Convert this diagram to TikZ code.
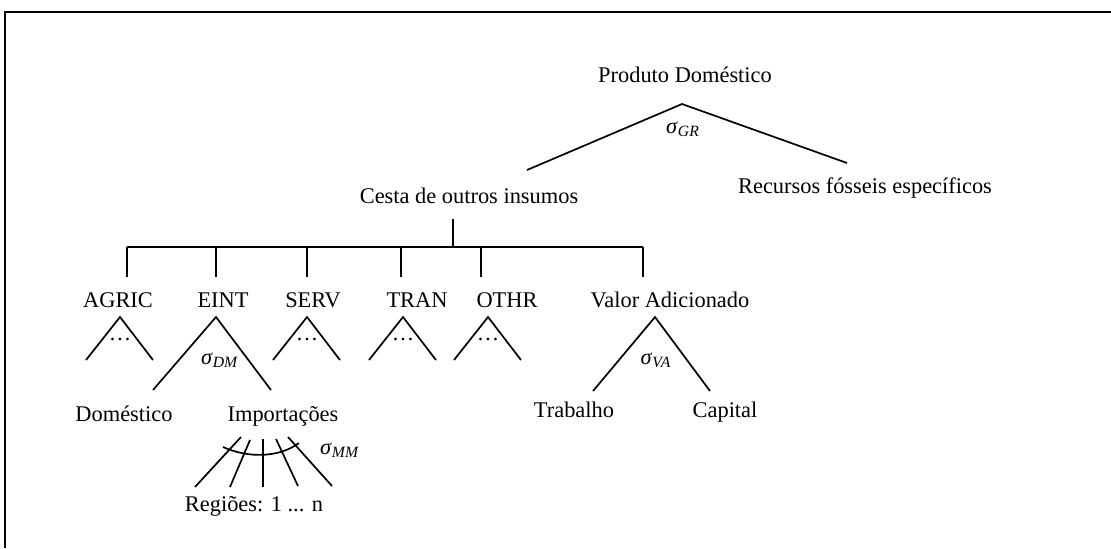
\documentclass[tikz,border=0pt]{standalone}
\usepackage{fontspec}
\setmainfont{Liberation Serif}
\usetikzlibrary{positioning}

\newcommand{\elas}[1]{\textit{σ}\textsubscript{\textit{#1}}}

\begin{document}
\begin{tikzpicture}[x=0.5pt, y=-0.5pt]
    \tikzset{
      every node/.style={inner sep=0pt, font=\fontsize{11.2}{13}\selectfont}, % size of all labels
      lbl/.style={anchor=base}, % labels sit on their baseline
      branch/.style={line width=0.85pt}, % the lines of each nest
      bar/.style={line width=1.3pt}, % the long line below the basket
    }

    \useasboundingbox (0,0) rectangle (1111,548);
    \coordinate (fl) at (5,548);
    \coordinate (fc) at (5,12);
    \coordinate (fr) at (1111,12);
    \draw[line width=1pt] (fl) -- (fc) -- (fr);

    % top nest
    \node[lbl] (prod) at (685,82) {Produto Doméstico};
    \node (sgr) at (683,129) {\elas{GR}};
    \node[lbl] (cesta) at (469,203) {Cesta de outros insumos};
    \node[lbl] (fossil) at (865,193) {Recursos fósseis específicos};
    \coordinate (pa) at (682,104);
    \coordinate (pl) at (527,170);
    \coordinate (pr) at (847,163);
    \draw[branch] (pl) -- (pa) -- (pr);

    % basket
    \coordinate (cb) at (453,219);
    \coordinate (cj) at (453,247);
    \coordinate (bl) at (127,247);
    \coordinate (br) at (643,247);
    \draw[branch] (cb) -- (cj);
    \draw[bar] (bl) -- (br);
    \foreach \x/\s in {127/agric, 216/eint, 307/serv, 401/tran, 481/othr, 643/va}{
      \coordinate (\s top) at (\x,247);
      \coordinate (\s foot) at (\x,277);
      \draw[branch] (\s top) -- (\s foot);
    }

    \node[lbl] (agric) at (118,307) {AGRIC};
    \node[lbl] (eint) at (223,307) {EINT};
    \node[lbl] (serv) at (313,307) {SERV};
    \node[lbl] (tran) at (417,307) {TRAN};
    \node[lbl] (othr) at (507,307) {OTHR};
    \node[lbl] (va) at (670,307) {Valor Adicionado};

    % sectors that are not split
    \foreach \x/\s in {120/agric, 307/serv, 403/tran, 488/othr}{
      \coordinate (\s a) at (\x,317);
      \coordinate (\s l) at (\x-34,360);
      \coordinate (\s r) at (\x+33,360);
      \draw[branch] (\s l) -- (\s a) -- (\s r);
      \node[lbl] (\s dots) at (\x,340) {\dots};
    }

    % domestic and imported
    \coordinate (ea) at (216,317);
    \coordinate (el) at (153,390);
    \coordinate (er) at (271,390);
    \draw[branch] (el) -- (ea) -- (er);
    \node (sdm) at (220,360) {\elas{DM}};
    \node[lbl] (dom) at (124,421) {Doméstico};
    \node[lbl] (imp) at (283,421) {Importações};

    % value added
    \coordinate (vaa) at (655,317);
    \coordinate (val) at (593,391);
    \coordinate (var) at (710,391);
    \draw[branch] (val) -- (vaa) -- (var);
    \node (sva) at (656,360) {\elas{VA}};
    \node[lbl] (lab) at (574,417) {Trabalho};
    \node[lbl] (cap) at (725,417) {Capital};

    % regions
    \foreach \i/\xa/\ya/\xb/\yb in {1/241/437/195/487, 2/250/440/230/487, 3/263/439/263/487, 4/276/439/298/486, 5/288/437/332/486}{
      \coordinate (m\i t) at (\xa,\ya);
      \coordinate (m\i b) at (\xb,\yb);
      \draw[branch] (m\i t) -- (m\i b);
    }
    \coordinate (arcl) at (223,447);
    \coordinate (arcr) at (299,443);
    \draw[branch] (arcl) .. controls (250,459) and (280,457) .. (arcr);
    \node (smm) at (340,450) {\elas{MM}};
    \node[lbl] (reg) at (254,511) {Regiões: 1 ... n};
\end{tikzpicture}
\end{document}
